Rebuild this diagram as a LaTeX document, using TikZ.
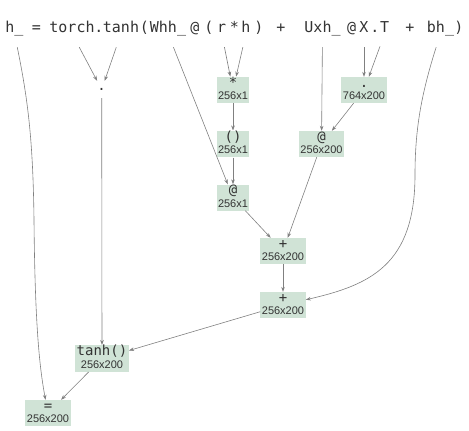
\documentclass[tikz,border=0pt]{standalone}
\usepackage{fontspec}
\usetikzlibrary{arrows.meta}

\newfontfamily\monofam{DejaVu Sans Mono}
\newfontfamily\labfam{Liberation Sans}

\definecolor{opgreen}{RGB}{208,227,214}
\definecolor{inkgray}{RGB}{51,51,51}
\definecolor{wiregray}{RGB}{128,128,128}

\newcommand{\tokfont}{\monofam\fontsize{15}{18}\selectfont}
\newcommand{\opfont}{\monofam\fontsize{14}{14}\selectfont}
\newcommand{\dimfont}{\labfam\fontsize{11}{12.5}\selectfont}
\newcommand{\opcell}[2]{{\opfont\rule{0pt}{10pt}#1}\\#2\rule[-3.5pt]{0pt}{3.5pt}}

\tikzset{
  tok/.style={font=\tokfont, text=inkgray, inner sep=0pt, text height=12pt, text depth=15pt, anchor=base},
  opbox/.style={fill=opgreen, text=inkgray, font=\dimfont, align=center, inner xsep=1.5pt, inner ysep=0pt},
  attr/.style={font=\opfont, text=inkgray, inner sep=0pt, minimum width=10pt, text height=9pt, text depth=8pt},
  edge/.style={draw=wiregray, line width=0.6pt, -{Stealth[length=5pt,width=3.6pt]}},
}

\begin{document}
\begin{tikzpicture}[x=1pt,y=1pt]
\useasboundingbox (0,0) rectangle (469,-431);

% Source line
\node[tok] (tokHb) at (14.5,-32) {h\_};
\node[tok] (tokAssign) at (36.5,-32) {=};
\node[tok] (tokTorch) at (72,-32) {torch};
\node[tok] (tokDotA) at (99,-32) {.};
\node[tok] (tokTanh) at (121,-32) {tanh};
\node[tok] (tokOpenA) at (144.5,-32) {(};
\node[tok] (tokWhh) at (168,-32) {Whh\_};
\node[tok] (tokAtA) at (195,-32) {@};
\node[tok] (tokOpenB) at (209,-32) {(};
\node[tok] (tokR) at (221.7,-32) {r};
\node[tok] (tokStar) at (234.5,-32) {*};
\node[tok] (tokH) at (246,-32) {h};
\node[tok] (tokCloseA) at (259,-32) {)};
\node[tok] (tokPlusA) at (281,-32) {+};
\node[tok] (tokUxh) at (322.5,-32) {Uxh\_};
\node[tok] (tokAtB) at (351.7,-32) {@};
\node[tok] (tokX) at (364,-32) {X};
\node[tok] (tokDotB) at (375,-32) {.};
\node[tok] (tokT) at (384.7,-32) {T};
\node[tok] (tokPlusB) at (410,-32) {+};
\node[tok] (tokBh) at (440.5,-32) {bh\_};
\node[tok] (tokCloseB) at (459,-32) {)};

% Operation nodes
\node[attr] (attrDot) at (101.7,-89.5) {.};
\node[opbox] (mulBox) at (233,-90) {\opcell{*}{256x1}};
\node[opbox] (transBox) at (364,-90) {\opcell{.}{764x200}};
\node[opbox] (parBox) at (233,-144) {\opcell{()}{256x1}};
\node[opbox] (matB) at (321.5,-144) {\opcell{@}{256x200}};
\node[opbox] (matA) at (233,-197.5) {\opcell{@}{256x1}};
\node[opbox] (addA) at (283,-251) {\opcell{+}{256x200}};
\node[opbox] (addB) at (283,-305) {\opcell{+}{256x200}};
\node[opbox] (tanhBox) at (102,-358.5) {\opcell{tanh()}{256x200}};
\node[opbox] (assignBox) at (48,-413) {\opcell{=}{256x200}};

% Edges
\draw[edge] (tokTorch) -- (attrDot);
\draw[edge] (tokTanh) -- (attrDot);
\draw[edge] (tokR) -- (mulBox);
\draw[edge] (tokH) -- (mulBox);
\draw[edge] (tokX) -- (transBox);
\draw[edge] (tokT) -- (transBox);
\draw[edge] (tokUxh) -- (matB);
\draw[edge] (tokWhh) -- (matA);
\draw[edge] (mulBox) -- (parBox);
\draw[edge] (parBox) -- (matA);
\draw[edge] (transBox) -- (matB);
\draw[edge] (matA) -- (addA);
\draw[edge] (matB) -- (addA);
\draw[edge] (addA) -- (addB);
\draw[edge] (tokBh) .. controls (421,-95) and (415,-130) .. (415,-175)
  .. controls (415,-265) and (370,-285) .. (addB);
\draw[edge] (addB) -- (tanhBox);
\draw[edge] (attrDot) -- (tanhBox);
\draw[edge] (tokHb) .. controls (28,-100) and (33,-140) .. (34,-220)
  .. controls (35,-330) and (40,-370) .. (assignBox);
\draw[edge] (tanhBox) -- (assignBox);

\end{tikzpicture}
\end{document}
